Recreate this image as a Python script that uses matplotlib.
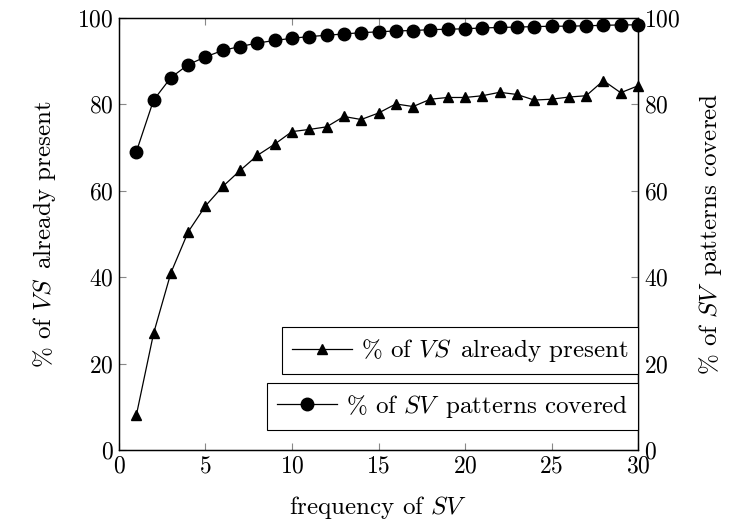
import numpy as np
import matplotlib
matplotlib.use("Agg")
import matplotlib.pyplot as plt

plt.rcParams['font.family'] = 'serif'
plt.rcParams['font.serif'] = ['cmr10']
plt.rcParams['mathtext.fontset'] = 'cm'
plt.rcParams['axes.formatter.use_mathtext'] = True
plt.rcParams['font.size'] = 18

# data
freq = list(range(1, 31))
vs_present = [8.0, 27.0, 41.0, 50.5, 56.5, 61.0, 64.7, 68.2, 70.8, 73.7,
              74.2, 74.8, 77.2, 76.5, 78.0, 80.1, 79.5, 81.2, 81.6, 81.6,
              82.0, 82.8, 82.3, 81.0, 81.2, 81.7, 82.0, 85.5, 82.7, 84.3]
sv_covered = [69.0, 81.0, 86.2, 89.2, 91.0, 92.5, 93.4, 94.2, 94.8, 95.3,
              95.7, 96.0, 96.3, 96.6, 96.8, 97.0, 97.1, 97.3, 97.4, 97.5,
              97.7, 97.8, 97.9, 98.0, 98.1, 98.1, 98.2, 98.3, 98.4, 98.4]

fig = plt.figure(figsize=(7.3, 5.23), dpi=100)
ax = fig.add_axes([0.163, 0.1396, 0.711, 0.826])
ax2 = ax.twinx()

l1, = ax.plot(freq, vs_present, color='black', lw=0.9, marker='^', ms=7.5,
              label=r'% of $VS\,$ already present', clip_on=False)
l2, = ax2.plot(freq, sv_covered, color='black', lw=0.9, marker='o', ms=9,
               label=r'% of $SV\,$ patterns covered', clip_on=False)

for a in (ax, ax2):
    a.set_xlim(0, 30)
    a.set_ylim(0, 100)
    a.set_yticks([0, 20, 40, 60, 80, 100])
    a.tick_params(direction='in', length=5, color='#888888', width=0.8,
                  labelsize=17, pad=4)
    for s in a.spines.values():
        s.set_linewidth(0.9)
ax.set_xticks([0, 5, 10, 15, 20, 25, 30])
ax.tick_params(top=True)

ax.set_xlabel(r'frequency of $SV$', labelpad=12)
ax.set_ylabel(r'% of $VS\,$ already present', labelpad=14)
ax2.set_ylabel(r'% of $SV\,$ patterns covered', labelpad=12)

leg1 = ax2.legend(handles=[l1], loc='lower right', bbox_to_anchor=(1.0, 0.175),
                  fancybox=False, edgecolor='black', framealpha=1,
                  handlelength=2.4, borderpad=0.4, handletextpad=0.35,
                  borderaxespad=0)
leg1.get_frame().set_linewidth(0.8)
ax2.add_artist(leg1)
leg2 = ax2.legend(handles=[l2], loc='lower right', bbox_to_anchor=(1.0, 0.046),
                  fancybox=False, edgecolor='black', framealpha=1,
                  handlelength=2.4, borderpad=0.4, handletextpad=0.35,
                  borderaxespad=0)
leg2.get_frame().set_linewidth(0.8)

fig.savefig('out.png', dpi=100)
